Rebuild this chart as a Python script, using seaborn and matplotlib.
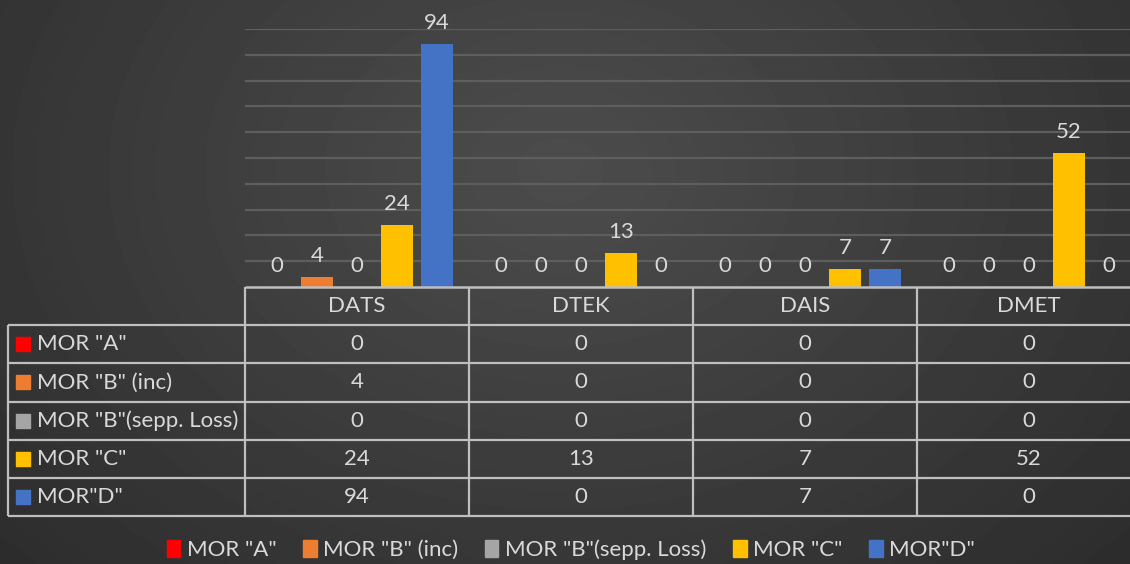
#!/usr/bin/env python3

import numpy as np
import pandas as pd
import matplotlib
matplotlib.use("Agg")
import matplotlib.pyplot as plt
from matplotlib.patches import Patch
import seaborn as sns

categories = ["DATS", "DTEK", "DAIS", "DMET"]
series = ['MOR "A"', 'MOR "B" (inc)', 'MOR "B"(sepp. Loss)', 'MOR "C"', 'MOR"D"']
mor_a = [0, 0, 0, 0]
mor_b_inc = [4, 0, 0, 0]
mor_b_loss = [0, 0, 0, 0]
mor_c = [24, 13, 7, 52]
mor_d = [94, 0, 7, 0]
colors = ["#ff0000", "#ed7d31", "#a5a5a5", "#ffc000", "#4472c4"]

values = [mor_a, mor_b_inc, mor_b_loss, mor_c, mor_d]
df = pd.DataFrame({
    "cat": np.tile(categories, len(series)),
    "series": np.repeat(series, len(categories)),
    "value": np.concatenate(values),
})

sns.set_style("dark")
plt.rcParams["font.family"] = ["Lato", "DejaVu Sans"]
TXT = "#d9d9d9"
LINE = "#bfbfbf"
FS = 16

W, H = 1130, 564
fig = plt.figure(figsize=(W / 100, H / 100), dpi=100)

# radial gradient background
bg = fig.add_axes([0, 0, 1, 1], zorder=-10)
yy, xx = np.mgrid[0:H, 0:W]
r = np.sqrt(((xx - 560) / 800.0) ** 2 + ((yy - 170) / 600.0) ** 2)
shade = np.clip(0.30 - 0.13 * r, 0.14, 0.30)
bg.imshow(shade, cmap="gray", vmin=0, vmax=1, aspect="auto", interpolation="bilinear")
bg.axis("off")

# plot area: x 245..1141 px, y 29..287 px
ax = fig.add_axes([245 / W, (H - 287) / H, 896 / W, 258 / H])
ax.set_facecolor("none")
sns.barplot(data=df, x="cat", y="value", hue="series", hue_order=series,
            order=categories, palette=colors, width=0.893, gap=0.2,
            legend=False, ax=ax, saturation=1, linewidth=0, edgecolor="none")
ax.set_xlim(-0.5, 3.5)
ax.set_ylim(0, 100)
ax.set_yticks(np.arange(10, 101, 10))
ax.yaxis.grid(True, color="#5e5e5e", lw=1.6)
ax.xaxis.grid(False)
ax.set_xticks([])
ax.set_yticklabels([])
ax.tick_params(left=False, bottom=False)
ax.set_xlabel("")
ax.set_ylabel("")
for s in ax.spines.values():
    s.set_visible(False)

for cont, vals in zip(ax.containers, values):
    ax.bar_label(cont, labels=[str(v) for v in vals], padding=8,
                 color=TXT, fontsize=FS, clip_on=False)

# data table: separate axes, x in pixels from the left border, y in rows
tax = fig.add_axes([8 / W, (H - 516) / H, 1133 / W, 229 / H])
tax.set_facecolor("none")
tax.set_xlim(0, 1133)
tax.set_ylim(6, 0)
tax.axis("off")
label_w, col_w = 237, 224
col_edges = [label_w + k * col_w for k in range(len(categories) + 1)]

tax.hlines(0, label_w, 1133, color=LINE, lw=1.8, clip_on=False)
tax.hlines(range(1, 7), 0, 1133, color=LINE, lw=1.6, clip_on=False)
tax.vlines(0, 1, 6, color=LINE, lw=1.6, clip_on=False)
tax.vlines(col_edges, 0, 6, color=LINE, lw=1.6, clip_on=False)

for j, cat in enumerate(categories):
    xc = label_w + (j + 0.5) * col_w
    tax.text(xc, 0.5, cat, ha="center", va="center", color=TXT, fontsize=FS)
    for i, vals in enumerate(values):
        tax.text(xc, i + 1.5, str(vals[j]), ha="center", va="center",
                 color=TXT, fontsize=FS)
for i, (s, c) in enumerate(zip(series, colors)):
    tax.scatter([15], [i + 1.5], marker="s", s=90, color=c, clip_on=False)
    tax.text(29, i + 1.5, s, ha="left", va="center", color=TXT, fontsize=FS)

handles = [Patch(color=c, label=s) for c, s in zip(colors, series)]
leg = fig.legend(handles=handles, loc="center", bbox_to_anchor=(571 / W, 1 - 550 / H),
                 ncol=5, frameon=False, fontsize=FS, handlelength=0.6, handleheight=0.8,
                 handletextpad=0.3, columnspacing=1.2)
for t in leg.get_texts():
    t.set_color(TXT)

fig.savefig("out.png", dpi=100)
